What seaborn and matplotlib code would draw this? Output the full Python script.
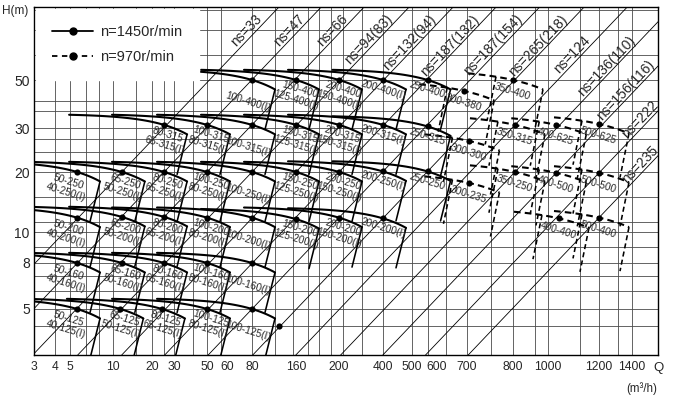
import numpy as np
import pandas as pd
import matplotlib
matplotlib.use("Agg")
import matplotlib.pyplot as plt
from matplotlib.lines import Line2D
from matplotlib.ticker import NullLocator
import seaborn as sns

# pumps at n=1450 r/min (solid): label, rated Q (m3/h), rated H (m)
solid_labels = [
    "100-400(I)", "150-400\n125-400(I)", "200-400\n150-400(I)", "200-400(I)", "250-400",
    "80-315\n65-315(I)", "100-315\n80-315(I)", "100-315(I)", "150-315\n125-315(I)",
    "200-315\n150-315(I)", "200-315(I)", "250-315",
    "50-250\n40-250(I)", "65-250\n50-250(I)", "80-250\n65-250(I)", "100-250\n80-250(I)",
    "100-250(I)", "150-250\n125-250(I)", "200-250\n150-250(I)", "200-250(I)", "250-250",
    "50-200\n40-200(I)", "65-200\n50-200(I)", "80-200\n65-200(I)", "100-200\n80-200(I)",
    "100-200(I)", "150-200\n125-200(I)", "200-200\n150-200(I)", "200-200(I)",
    "50-160\n40-160(I)", "65-160\n50-160(I)", "80-160\n65-160(I)", "100-160\n80-160(I)", "100-160(I)",
    "50-125\n40-125(I)", "65-125\n50-125(I)", "80-125\n65-125(I)", "100-125\n80-125(I)", "100-125(I)",
]
solid_q = [80, 160, 200, 400, 560,
           25, 50, 80, 160, 200, 400, 560,
           5.6, 11.7, 25, 50, 80, 160, 200, 400, 560,
           5.6, 11.7, 25, 50, 80, 160, 200, 400,
           5.6, 11.7, 25, 50, 80,
           5.6, 11.4, 24, 50, 80]
solid_h = [50, 50, 50, 50, 50,
           31, 31, 31, 31, 31, 31, 30.5,
           20, 20, 20, 20, 20, 20, 20, 20.1, 20.1,
           11.8, 11.9, 11.9, 11.8, 11.8, 11.6, 11.8, 11.7,
           8, 8, 8, 8, 8,
           5, 5, 5, 5, 5]

# pumps at n=970 r/min (dashed)
dashed_labels = ["300-380", "350-400", "300-300", "350-315", "400-625", "500-625",
                 "300-235", "350-250", "400-500", "500-500", "400-400", "500-400"]
dashed_q = [690, 800, 705, 810, 1030, 1200, 705, 810, 1030, 1200, 1040, 1200]
dashed_h = [44.5, 50, 26.6, 31, 31, 31.3, 17.6, 20, 19.8, 19.8, 11.7, 11.8]

extra_q = [122]
extra_h = [4.2]

# specific speed lines, each through one rated point
ns_labels = ["ns=33", "ns=47", "ns=66", "ns=94(83)", "ns=132(94)", "ns=187(132)",
             "ns=187(154)", "ns=265(218)", "ns=124", "ns=136(110)", "ns=156(116)",
             "ns=222", "ns=235"]
ns_q = [11.7, 25, 50, 80, 160, 200, 400, 560, 810, 810, 1030, 1200, 1200]
ns_h = [20, 20, 20, 20, 20, 20, 20.1, 20.1, 31, 20, 19.8, 19.8, 11.8]

x_ticks = [3, 4, 5, 10, 20, 30, 50, 60, 80, 160, 200, 400, 500, 600, 700, 800, 1000, 1200, 1400]
y_ticks = [5, 8, 10, 20, 30, 50]
grid_q = [4, 5, 6.5, 8, 10, 15, 20, 25, 30, 40, 50, 57, 80, 115, 152, 170, 180, 192, 213, 287,
          400, 500, 560, 630, 700, 750, 800, 920, 1000, 1120, 1200, 1310, 1400]
grid_h = [4.2, 5, 6, 7, 8, 9, 10, 11.2, 15, 20, 24, 27, 30, 36, 40, 50, 65, 85, 105]

# layout: pixel position of each tick value on the 680x398 canvas
x_tick_px = [34, 55, 70, 113, 152, 174, 207, 227, 252, 296, 339, 383, 412, 437, 467, 513, 548, 599, 632]
y_tick_px = [309, 263, 232, 172, 128, 80]
ns_label_end = [17, 17, 17, 17, 17, 17, 17, 17, 38, 38, 62, 102, 142]


def make_scale(vals, pos):
    lv = np.log10(np.asarray(vals, float))
    p = np.asarray(pos, float)
    s0 = (p[1] - p[0]) / (lv[1] - lv[0])
    s1 = (p[-1] - p[-2]) / (lv[-1] - lv[-2])

    def fwd(v):
        l = np.log10(np.maximum(np.asarray(v, float), 1e-12))
        out = np.interp(l, lv, p)
        out = np.where(l < lv[0], p[0] + (l - lv[0]) * s0, out)
        return np.where(l > lv[-1], p[-1] + (l - lv[-1]) * s1, out)

    def inv(u):
        u = np.asarray(u, float)
        l = np.interp(u, p, lv)
        l = np.where(u < p[0], lv[0] + (u - p[0]) / s0, l)
        l = np.where(u > p[-1], lv[-1] + (u - p[-1]) / s1, l)
        return 10 ** l

    return fwd, inv


fx, ix = make_scale(x_ticks, x_tick_px)
fy, iy = make_scale(y_ticks, [-p for p in y_tick_px])


def tile(q, h, dashed):
    # outline of one pump's working area, built in screen pixels around its rated point
    R, L, tail, ht, sl = (30, 17, 45, 44, 9) if dashed else (23, 21, 95, 40, 10)
    px, py = float(fx(q)), -float(fy(h))

    def drop(x):
        return py + 11 * (np.exp(0.62 * (np.asarray(x, float) - px) / R) - 1)

    xs = np.linspace(px - tail, px + R, 60)
    segs = [("top", xs, drop(xs)),
            ("edge", np.array([px + R, px + R - sl]),
             np.array([drop(px + R), drop(px + R) + ht]))]
    if dashed:
        segs.append(("edge", np.array([px - L, px - L - sl]),
                     np.array([drop(px - L), drop(px - L) + ht])))
    return segs


rows = []
seg_id = 0
for qs, hs, dashed in [(solid_q, solid_h, False), (dashed_q, dashed_h, True)]:
    for q, h in zip(qs, hs):
        for kind, xs, ys in tile(q, h, dashed):
            for Q, H in zip(ix(xs), iy(-ys)):
                rows.append((Q, H, seg_id, kind, "970" if dashed else "1450"))
            seg_id += 1
curves = pd.DataFrame(rows, columns=["Q", "H", "seg", "kind", "speed"])

# specific speed lines: straight on screen, clipped to the frame
slope = 1.05
ns_rows = []
for i, (q, h) in enumerate(zip(ns_q, ns_h)):
    px, py = float(fx(q)), -float(fy(h))
    t0 = max(34 - px, (py - 355) / slope)
    t1 = min(658 - px, (py - 7) / slope)
    for t in (t0, t1):
        ns_rows.append((float(ix(px + t)), float(iy(-(py - slope * t))), i))
ns_df = pd.DataFrame(ns_rows, columns=["Q", "H", "line"])

dots = pd.DataFrame({"Q": solid_q + dashed_q + extra_q, "H": solid_h + dashed_h + extra_h})

sns.set_style("white")
plt.rcParams["font.family"] = ["Liberation Sans", "DejaVu Sans"]

fig = plt.figure(figsize=(6.8, 3.98), dpi=100)
ax = fig.add_axes([34 / 680, 1 - 355 / 398, 624 / 680, 348 / 398])

sns.lineplot(data=ns_df, x="Q", y="H", units="line", estimator=None, color="black",
             linewidth=0.6, legend=False, ax=ax, zorder=1.5)
sns.lineplot(data=curves, x="Q", y="H", units="seg", estimator=None, sort=False,
             style="speed", dashes={"1450": "", "970": (3.2, 2.0)}, size="kind",
             sizes={"top": 1.5, "edge": 1.15}, color="black",
             legend=False, ax=ax, zorder=2)
sns.scatterplot(data=dots, x="Q", y="H", color="black", s=20, linewidth=0,
                legend=False, ax=ax, zorder=4)

ax.set_xscale("function", functions=(fx, ix))
ax.set_yscale("function", functions=(fy, iy))
ax.set_xlim(float(ix(34)), float(ix(658)))
ax.set_ylim(float(iy(-355)), float(iy(-7)))

for q in grid_q:
    ax.axvline(q, color="#4a4a4a", lw=0.6, zorder=0.8)
for h in grid_h:
    ax.axhline(h, color="#4a4a4a", lw=0.6, zorder=0.8)

ax.set_xticks(x_ticks, labels=[str(v) for v in x_ticks])
ax.set_yticks(y_ticks, labels=[str(v) for v in y_ticks])
ax.xaxis.set_minor_locator(NullLocator())
ax.yaxis.set_minor_locator(NullLocator())
ax.tick_params(axis="x", length=0, pad=4, labelsize=8.7)
ax.tick_params(axis="y", length=0, pad=3, labelsize=10)
ax.set_xlabel("")
ax.set_ylabel("")
for sp in ax.spines.values():
    sp.set_color("black")
    sp.set_linewidth(1.0)

# pump labels
for labels, qs, hs, dashed in [(solid_labels, solid_q, solid_h, False),
                               (dashed_labels, dashed_q, dashed_h, True)]:
    for lab, q, h in zip(labels, qs, hs):
        if dashed:
            dx, dy = -1, 12
        elif "\n" in lab:
            dx, dy = (-10 if q < 8 else 2), 15
        else:
            dx, dy = (-4, 22) if q < 300 else (0, 10)
        ax.annotate(lab, (q, h), xytext=(dx * 0.72, -dy * 0.72), textcoords="offset points",
                    rotation=-17, rotation_mode="anchor", ha="center", va="center",
                    fontsize=7.3, linespacing=1.1, zorder=3)

# ns labels along their lines
ang = np.degrees(np.arctan(slope))
nx, ny = -0.724 * 7, -0.690 * 7
for lab, q, h, yend in zip(ns_labels, ns_q, ns_h, ns_label_end):
    px, py = float(fx(q)) + nx, -float(fy(h)) + ny
    x = px + (py - yend) / slope
    y = yend
    if x > 656:
        x = 656
        y = py - slope * (656 - px)
    ax.text(float(ix(x)), float(iy(-y)), lab, rotation=ang, rotation_mode="anchor",
            ha="right", va="center", fontsize=10, zorder=3)

handles = [Line2D([0], [0], color="black", lw=1.3, marker="o", ms=5, ls="-"),
           Line2D([0], [0], color="black", lw=1.3, marker="o", ms=5, ls=(0, (3, 2.5)))]
leg = ax.legend(handles, ["n=1450r/min", "n=970r/min"], loc="upper left",
                bbox_to_anchor=(0, 1), borderaxespad=0.15, frameon=True, fancybox=False,
                edgecolor="white", facecolor="white", framealpha=1, fontsize=10.5,
                handlelength=2.8, handletextpad=0.5, borderpad=1.1, labelspacing=0.75)
leg.set_zorder(6)

fig.text(15 / 680, 1 - 11 / 398, "H(m)", ha="center", va="center", fontsize=8.5)
fig.text(658 / 680, 1 - 368 / 398, "Q", ha="center", va="center", fontsize=9.5)
fig.text(642 / 680, 1 - 389 / 398, "(m³/h)", ha="center", va="center", fontsize=8.3)

fig.savefig("out.png", dpi=100)
